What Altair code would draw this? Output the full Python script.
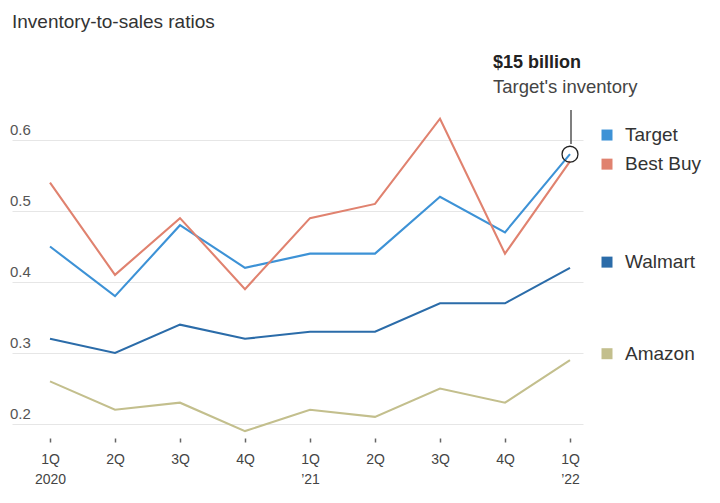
import json
import altair as alt
import pandas as pd

# ---- data ----
X_LABELS = [["1Q", "2020"], ["2Q"], ["3Q"], ["4Q"], ["1Q", "’21"],
            ["2Q"], ["3Q"], ["4Q"], ["1Q", "’22"]]
COMPANIES = ["Target", "Best Buy", "Walmart", "Amazon"]
TARGET = [0.45, 0.38, 0.48, 0.42, 0.44, 0.44, 0.52, 0.47, 0.58]
BEST_BUY = [0.54, 0.41, 0.49, 0.39, 0.49, 0.51, 0.63, 0.44, 0.57]
WALMART = [0.32, 0.30, 0.34, 0.32, 0.33, 0.33, 0.37, 0.37, 0.42]
AMAZON = [0.26, 0.22, 0.23, 0.19, 0.22, 0.21, 0.25, 0.23, 0.29]
COLORS = ["#3d92d6", "#e0826f", "#2b6ca9", "#c3bf8d"]
LABEL_Y = [0.607, 0.566, 0.428, 0.299]
Y_TICKS = [0.2, 0.3, 0.4, 0.5, 0.6]
TITLE = "Inventory-to-sales ratios"
ANNOT = ["$15 billion", "Target's inventory"]

FONT = "Liberation Sans"

series = dict(zip(COMPANIES, [TARGET, BEST_BUY, WALMART, AMAZON]))
rows = []
for c in COMPANIES:
    for i, v in enumerate(series[c]):
        rows.append({"company": c, "i": i, "v": v})
df = pd.DataFrame(rows)

yscale = alt.Scale(domain=[0.18873, 0.74085], nice=False, zero=False)
xscale = alt.Scale(domain=[-0.5846, 8.2], nice=False, zero=False)
cscale = alt.Scale(domain=COMPANIES, range=COLORS)

label_expr = json.dumps(X_LABELS, ensure_ascii=False) + "[datum.value]"

x_enc = alt.X(
    "i:Q", scale=xscale,
    axis=alt.Axis(values=list(range(len(X_LABELS))), labelExpr=label_expr,
                  grid=False, domain=False, ticks=True, tickSize=4, offset=6,
                  tickColor="#666", tickWidth=1.5, labelPadding=10,
                  labelFontSize=14, labelColor="#444", labelFont=FONT,
                  labelLineHeight=20, labelBaseline="top", labelAngle=0,
                  labelFlush=False, title=None),
)
y_enc = alt.Y(
    "v:Q", scale=yscale,
    axis=alt.Axis(values=Y_TICKS, grid=True, gridColor="#e6e6e6", gridWidth=1,
                  labels=False, ticks=False, domain=False, title=None),
)

lines = alt.Chart(df).mark_line(strokeWidth=2.1).encode(
    x=x_enc, y=y_enc,
    color=alt.Color("company:N", scale=cscale, legend=None),
    order=alt.Order("i:Q"),
)

circle = alt.Chart(df).transform_filter(
    (alt.datum.company == "Target") & (alt.datum.i == len(TARGET) - 1)
).mark_point(shape="circle", size=254, filled=False, stroke="#222",
             strokeWidth=1.3, opacity=1).encode(
    x=alt.X("i:Q", scale=xscale), y=alt.Y("v:Q", scale=yscale))

leader = alt.Chart(pd.DataFrame({"a": [0]})).mark_rule(
    color="#555", strokeWidth=1.5).encode(
    x=alt.value(559), y=alt.value(70), y2=alt.value(104))

annot_df = pd.DataFrame({"t": ANNOT, "k": [0, 1]})
annot1 = alt.Chart(annot_df).transform_filter(alt.datum.k == 0).mark_text(
    align="left", baseline="middle", fontSize=18, fontWeight="bold",
    color="#222", font=FONT).encode(
    x=alt.value(481), y=alt.value(23), text="t:N")
annot2 = alt.Chart(annot_df).transform_filter(alt.datum.k == 1).mark_text(
    align="left", baseline="middle", fontSize=18.5, color="#444",
    font=FONT).encode(
    x=alt.value(481), y=alt.value(47), text="t:N")

title = alt.Chart(pd.DataFrame({"t": [TITLE]})).mark_text(
    align="left", baseline="middle", fontSize=19, color="#333",
    font=FONT).encode(x=alt.value(0), y=alt.value(-18), text="t:N")

ytick_df = pd.DataFrame({"v": Y_TICKS, "t": [f"{v:.1f}" for v in Y_TICKS]})
ylabels = alt.Chart(ytick_df).mark_text(
    align="left", baseline="middle", dy=-10, fontSize=15, color="#555",
    font=FONT).encode(x=alt.value(-2), y=alt.Y("v:Q", scale=yscale), text="t:N")

leg_df = pd.DataFrame({"company": COMPANIES, "ly": LABEL_Y})
leg_sq = alt.Chart(leg_df).mark_square(size=121, opacity=1).encode(
    x=alt.value(595), y=alt.Y("ly:Q", scale=yscale),
    color=alt.Color("company:N", scale=cscale, legend=None))
leg_tx = alt.Chart(leg_df).mark_text(
    align="left", baseline="middle", fontSize=19, color="#333",
    font=FONT).encode(
    x=alt.value(613), y=alt.Y("ly:Q", scale=yscale), text="company:N")

chart = alt.layer(
    lines, circle, leader, annot1, annot2, title, ylabels, leg_sq, leg_tx
).properties(
    width=571, height=392,
    padding={"left": 4, "top": 32, "right": 129, "bottom": 60},
    autosize=alt.AutoSizeParams(type="none"),
    background="white",
).configure_view(stroke=None)

chart.save("out.html", embed_options={"renderer": "svg", "actions": False})
